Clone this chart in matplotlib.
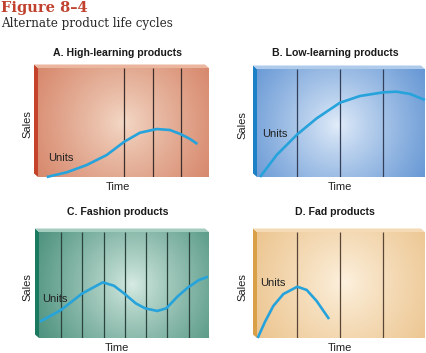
import numpy as np
import matplotlib
matplotlib.use("Agg")
import matplotlib.pyplot as plt
from matplotlib.patches import Polygon

# ---------------- data ----------------
fig_title = "Figure 8–4"
fig_subtitle = "Alternate product life cycles"
panel_titles = ["A. High-learning products", "B. Low-learning products",
                "C. Fashion products", "D. Fad products"]
x_label = "Time"
y_label = "Sales"
series_label = "Units"

a_x = [0.051, 0.168, 0.285, 0.402, 0.505, 0.596, 0.694, 0.772, 0.836, 0.889, 0.932]
a_y = [0.000, 0.043, 0.110, 0.202, 0.324, 0.406, 0.440, 0.431, 0.392, 0.349, 0.303]
a_div = [0.503, 0.673, 0.836]

b_x = [0.018, 0.117, 0.240, 0.355, 0.494, 0.613, 0.752, 0.831, 0.911, 1.000]
b_y = [0.000, 0.204, 0.395, 0.543, 0.688, 0.750, 0.784, 0.790, 0.769, 0.713]
b_div = [0.238, 0.494, 0.750]

c_x = [0.006, 0.129, 0.255, 0.375, 0.441, 0.500, 0.569, 0.624, 0.696, 0.749, 0.814, 0.875, 0.941, 0.994]
c_y = [0.154, 0.264, 0.421, 0.525, 0.493, 0.421, 0.327, 0.280, 0.255, 0.280, 0.390, 0.475, 0.547, 0.578]
c_div = [0.129, 0.253, 0.382, 0.506, 0.629, 0.753, 0.882]

d_x = [0.004, 0.048, 0.097, 0.157, 0.240, 0.296, 0.355, 0.429]
d_y = [0.000, 0.154, 0.302, 0.415, 0.484, 0.453, 0.349, 0.179]
d_div = [0.238, 0.494, 0.750]

# ---------------- layout / style ----------------
W, H = 427, 353
fig = plt.figure(figsize=(W / 100, H / 100), dpi=100)
fig.patch.set_facecolor("white")

panels = [
    dict(box=(38, 209, 68, 177), c=(0.50, 0.50), cc=(244, 218, 200), ec=(214, 134, 106),
         side="#C4432A", top="#EBB59E", x=a_x, y=a_y, div=a_div, lc="#3d302c",
         units=(0.06, 0.17), title_x=118, title_y=53, sales_x=27, time_x=118),
    dict(box=(257, 425, 69, 177), c=(0.48, 0.48), cc=(228, 238, 250), ec=(100, 150, 212),
         side="#1B80C6", top="#AFCBEC", x=b_x, y=b_y, div=b_div, lc="#34405a",
         units=(0.03, 0.40), title_x=335, title_y=53, sales_x=242, time_x=340),
    dict(box=(39, 209, 232, 338), c=(0.55, 0.50), cc=(216, 236, 228), ec=(80, 148, 128),
         side="#1A7A60", top="#A4CDBF", x=c_x, y=c_y, div=c_div, lc="#2c443e",
         units=(0.02, 0.37), title_x=118, title_y=212, sales_x=27, time_x=117),
    dict(box=(257, 425, 232, 338), c=(0.52, 0.52), cc=(253, 242, 224), ec=(236, 196, 142),
         side="#D9A047", top="#F4DBB5", x=d_x, y=d_y, div=d_div, lc="#5a4636",
         units=(0.02, 0.52), title_x=335, title_y=212, sales_x=242, time_x=340),
]

curve_color = "#27A3DC"
font = ["Liberation Sans", "DejaVu Sans"]

for i, p in enumerate(panels):
    x0, x1, y0, y1 = p["box"]
    wpx, hpx = x1 - x0, y1 - y0
    ax = fig.add_axes([x0 / W, 1 - y1 / H, wpx / W, hpx / H])
    ax.set_xlim(0, 1)
    ax.set_ylim(0, 1)
    ax.set_axis_off()

    nx, ny = 200, 130
    X, Y = np.meshgrid(np.linspace(0, wpx, nx), np.linspace(0, hpx, ny))
    d = np.sqrt((X - p["c"][0] * wpx) ** 2 + (Y - p["c"][1] * hpx) ** 2) / 105.0
    t = np.clip(d, 0, 1) ** 0.85
    cc = np.array(p["cc"]) / 255.0
    ec = np.array(p["ec"]) / 255.0
    img = cc[None, None, :] * (1 - t[..., None]) + ec[None, None, :] * t[..., None]
    ax.imshow(img, origin="lower", extent=(0, 1, 0, 1), aspect="auto", zorder=0,
              interpolation="bilinear")

    dx = -4.0 / wpx
    dy = 3.5 / hpx
    left = Polygon([(0, 0), (0, 1), (dx, 1 + dy), (dx, dy)], closed=True,
                   transform=ax.transAxes, clip_on=False, facecolor=p["side"],
                   edgecolor="none", zorder=1)
    top = Polygon([(0, 1), (1, 1), (1 + dx, 1 + dy), (dx, 1 + dy)], closed=True,
                  transform=ax.transAxes, clip_on=False, facecolor=p["top"],
                  edgecolor="none", zorder=1)
    ax.add_patch(left)
    ax.add_patch(top)

    ax.vlines(p["div"], 0, 1, color=p["lc"], lw=0.9, zorder=2)

    ax.plot(p["x"], p["y"], color=curve_color, lw=1.9, solid_capstyle="butt",
            solid_joinstyle="round", zorder=3, clip_on=False)

    ax.text(p["units"][0], p["units"][1], series_label, transform=ax.transAxes,
            fontsize=8, color="#222222", family=font, ha="left", va="center", zorder=4)

    fig.text(p["title_x"] / W, 1 - p["title_y"] / H, panel_titles[i], fontsize=7.6,
             fontweight="bold", family=font, color="#1a1a1a", ha="center", va="center")
    fig.text(p["sales_x"] / W, 1 - ((y0 + y1) / 2 + 2) / H, y_label, fontsize=8,
             family=font, color="#222222", rotation=90, ha="center", va="center")
    fig.text(p["time_x"] / W, 1 - (y1 + 10) / H, x_label, fontsize=8,
             family=font, color="#222222", ha="center", va="center")

fig.text(1 / W, 1 - 8 / H, fig_title, fontsize=10.5, fontweight="bold",
         family=["DejaVu Serif"], color="#C0412E", ha="left", va="center")
fig.text(1 / W, 1 - 24 / H, fig_subtitle, fontsize=8.6, family=["DejaVu Serif"],
         color="#2a2a2a", ha="left", va="center")

fig.savefig("out.png", dpi=100, facecolor="white")
